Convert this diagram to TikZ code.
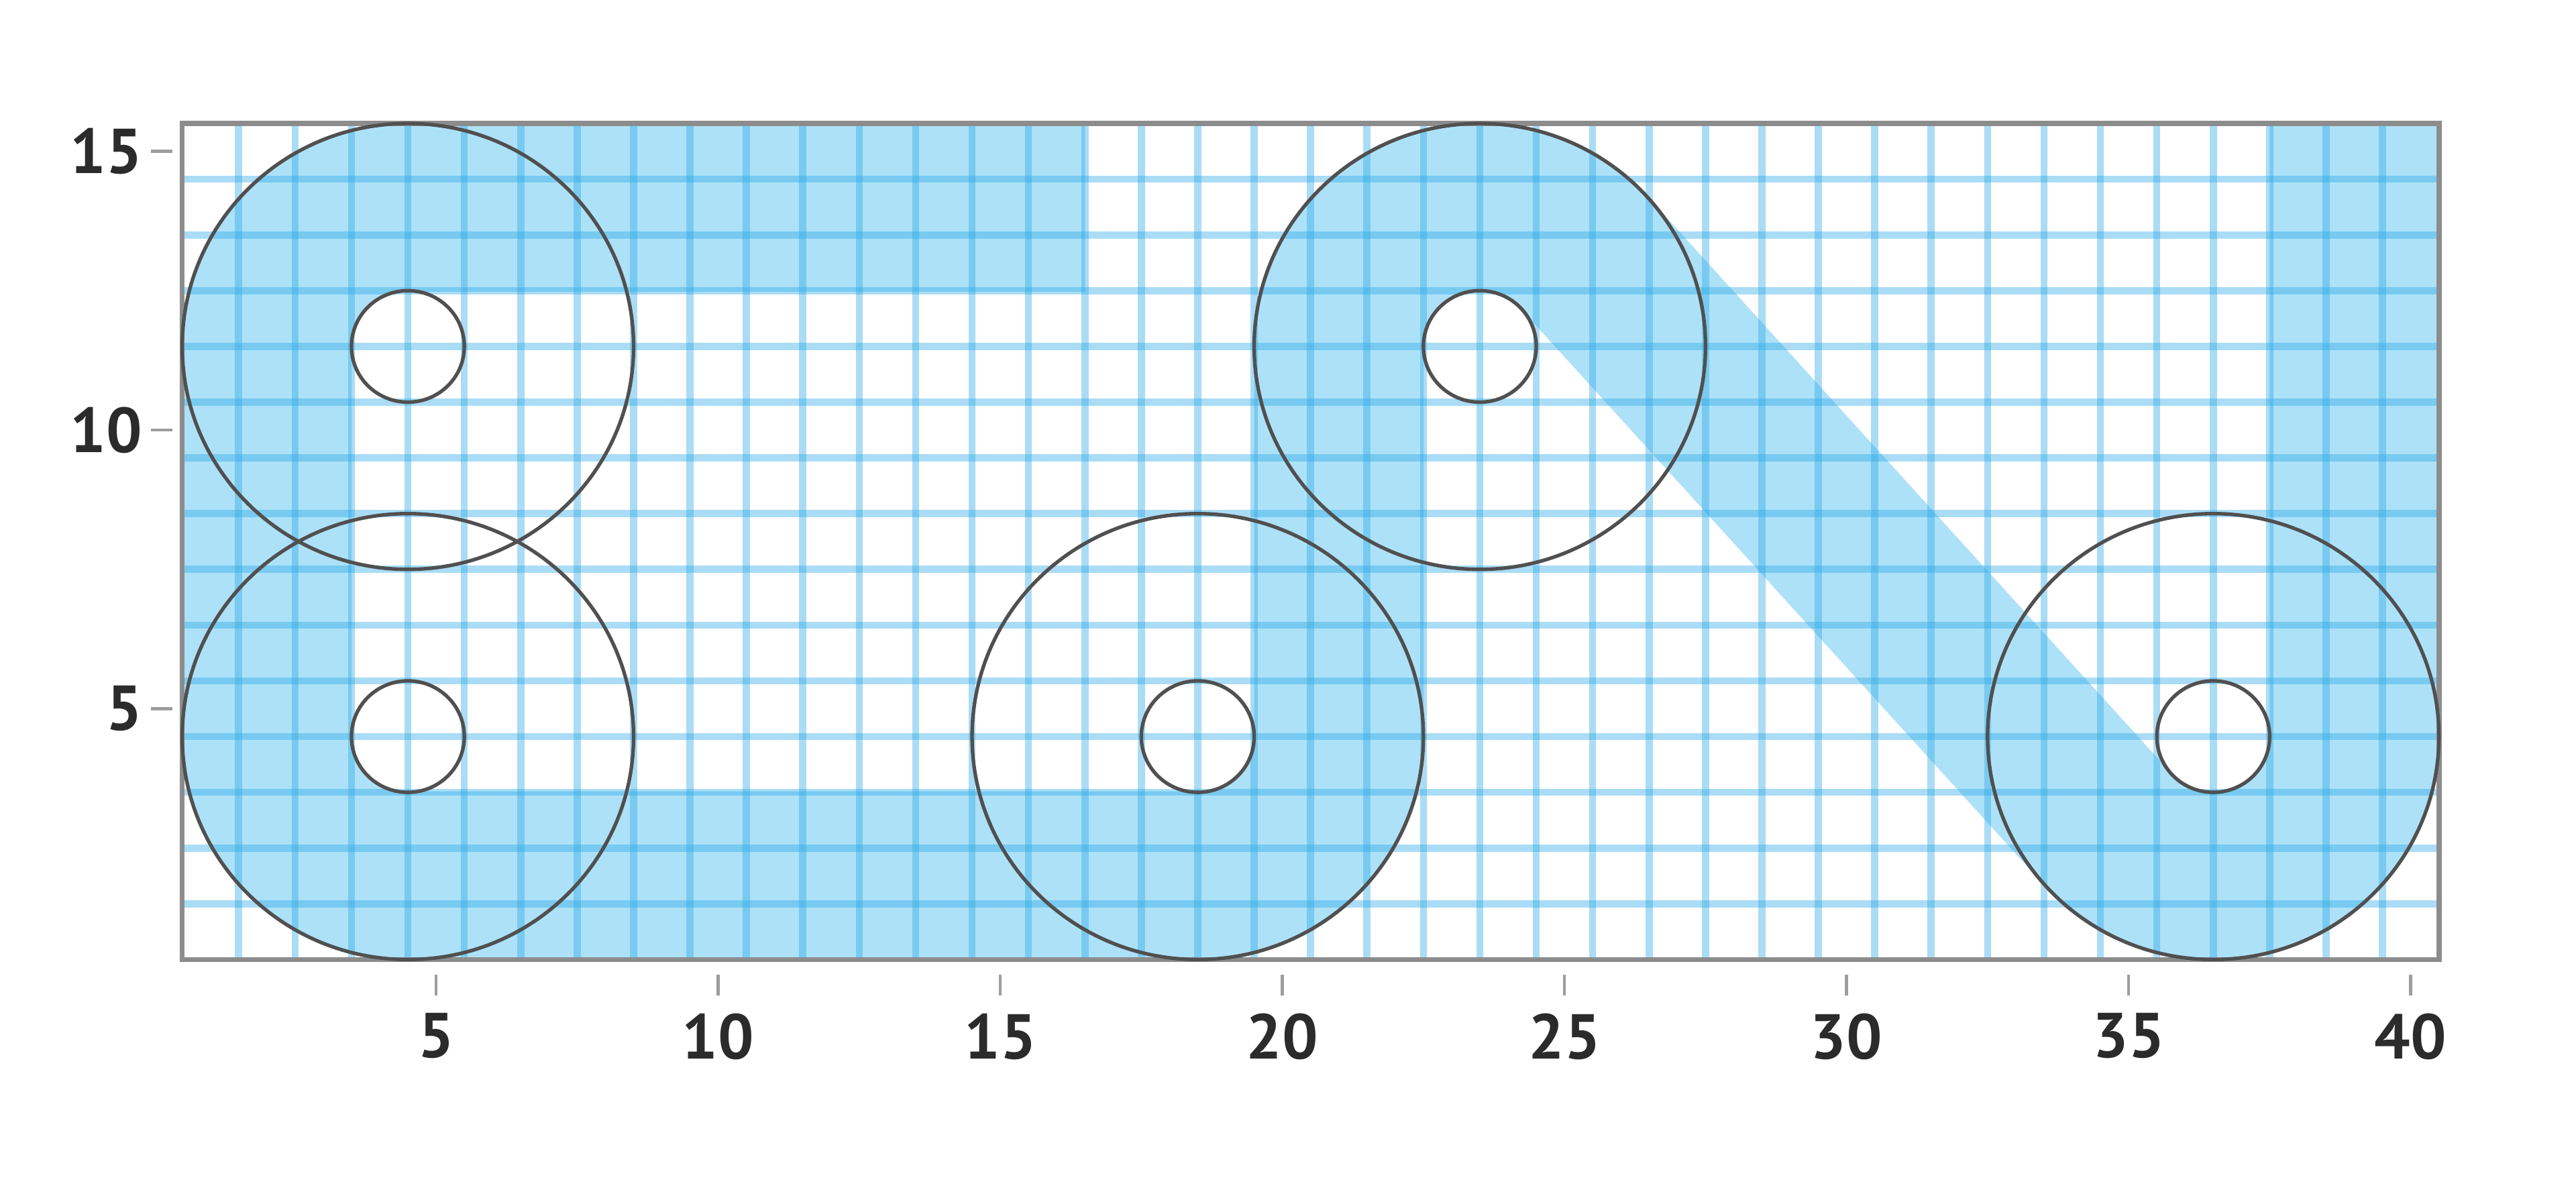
\documentclass[tikz,border=0pt]{standalone}
\usepackage{fontspec}
\setmainfont{PT Sans}
\usetikzlibrary{positioning}
\definecolor{gridblue}{HTML}{2AA8E6}
\definecolor{fillblue}{HTML}{ADE1F8}
\definecolor{ringgray}{HTML}{505050}
\definecolor{framegray}{HTML}{8C8C8C}
\definecolor{labeldark}{HTML}{2B2B2B}
\tikzset{
  band/.style={draw=fillblue,line width=3cm},
  gridln/.style={draw=gridblue,draw opacity=0.4,line width=3.6pt},
  frame/.style={draw=framegray,line width=2.6pt},
  ring/.style={draw=ringgray,line width=1.8pt},
  tickmark/.style={draw=framegray!85,line width=1.6pt},
  lbl/.style={font=\fontsize{32}{38}\selectfont\bfseries,text=labeldark,inner sep=0pt},
}

\begin{document}
\begin{tikzpicture}[x=1cm,y=0.988cm]
    \useasboundingbox (-2.73,-3.52) rectangle (42.93,17.715);
    % shaded band, clipped to the plot area
    \begin{scope}
      \clip (0.5,0.5) rectangle (40.5,15.5);
      \draw[band] (16.5,14) -- (4.5,14) arc[start angle=90,end angle=180,radius=2.5]
        -- (2,4.5) arc[start angle=180,end angle=270,radius=2.5]
        -- (18.5,2) arc[start angle=270,end angle=360,radius=2.5]
        -- (21,11.5) arc[start angle=180,end angle=41.904,radius=2.5]
        -- ++(9.278,-10.339) arc[start angle=-138.096,end angle=0,radius=2.5]
        -- (39,16);
      \foreach \i in {1,...,39} \draw[gridln] (\i+0.5,0.5) -- (\i+0.5,15.5);
      \foreach \j in {1,...,14} \draw[gridln] (0.5,\j+0.5) -- (40.5,\j+0.5);
    \end{scope}
    \draw[frame] (0.5,0.5) rectangle (40.5,15.5);
    % corner circles, outer and inner radius
    \foreach \cx/\cy in {4.5/11.5,4.5/4.5,18.5/4.5,23.5/11.5,36.5/4.5} {
      \draw[ring] (\cx,\cy) circle[radius=4];
      \draw[ring] (\cx,\cy) circle[radius=1];
    }
    % axes
    \foreach \x in {5,10,...,40} {
      \draw[tickmark] (\x,0.23) -- (\x,-0.14);
      \node[lbl,anchor=north] (xl\x) at (\x,-0.46) {\x};
    }
    \foreach \y in {5,10,15} {
      \draw[tickmark] (0.33,\y) -- (-0.06,\y);
      \node[lbl,anchor=east] (yl\y) at (-0.2,\y) {\y};
    }
\end{tikzpicture}
\end{document}
